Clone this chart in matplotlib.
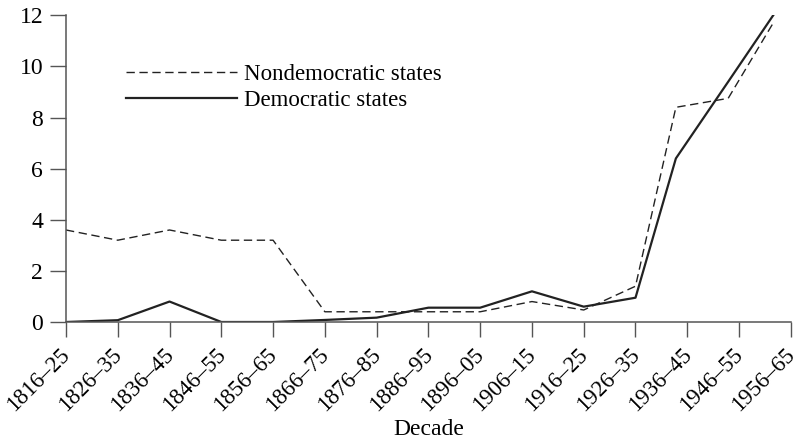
import matplotlib
matplotlib.use("Agg")
import matplotlib.pyplot as plt
import matplotlib.transforms as mtransforms

plt.rcParams['font.family'] = ['Liberation Serif', 'DejaVu Serif']

decades = ["1816–25", "1826–35", "1836–45", "1846–55", "1856–65", "1866–75",
           "1876–85", "1886–95", "1896–05", "1906–15", "1916–25", "1926–35",
           "1936–45", "1946–55", "1956–65"]

# x positions of the plotted points (the last three sit a bit left of their ticks in the original)
x_pos = [0, 1, 2, 3, 4, 5, 6, 7, 8, 9, 10, 11, 11.78, 12.79, 13.66]

nondemocratic = [3.6, 3.2, 3.6, 3.2, 3.2, 0.4, 0.4, 0.4, 0.4, 0.8, 0.47, 1.4, 8.4, 8.75, 11.7]
democratic = [0.0, 0.07, 0.8, 0.0, 0.0, 0.08, 0.17, 0.56, 0.56, 1.2, 0.6, 0.95, 6.4, 9.4, 12.0]

ink = "#222222"

fig = plt.figure(figsize=(7.98, 4.42), dpi=100)
ax = fig.add_axes([0.0827, 0.2715, 0.9083, 0.6939])

ax.plot(x_pos, nondemocratic, color=ink, lw=1.0, dashes=(6, 3.3),
        label="Nondemocratic states")
ax.plot(x_pos, democratic, color=ink, lw=1.6, label="Democratic states")

ax.set_xlim(0, len(decades) - 1)
ax.set_ylim(0, 12)
ax.set_xticks(range(len(decades)))
ax.set_xticklabels(decades, rotation=45, ha="right", va="top", fontsize=16.5)
ax.set_yticks(range(0, 13, 2))
ax.tick_params(axis="y", labelsize=17, length=11.5, width=1, color="#555555", pad=5)
ax.tick_params(axis="x", length=11, width=1, color="#555555", pad=5)

# nudge the rotated labels a little to the right, like the original
shift = mtransforms.ScaledTranslation(6 / 72, 0, fig.dpi_scale_trans)
for lbl in ax.get_xticklabels():
    lbl.set_transform(lbl.get_transform() + shift)

for s in ["top", "right"]:
    ax.spines[s].set_visible(False)
for s in ["left", "bottom"]:
    ax.spines[s].set_color("#555555")
    ax.spines[s].set_linewidth(1.1)

ax.set_xlabel("Decade", fontsize=17)
ax.xaxis.set_label_coords(0.5, -0.315)

ax.legend(loc="upper left", bbox_to_anchor=(0.07, 0.87), frameon=False,
          fontsize=16.5, handlelength=4.85, handletextpad=0.3, labelspacing=0.22,
          borderaxespad=0)

fig.savefig("out.png", dpi=100)
